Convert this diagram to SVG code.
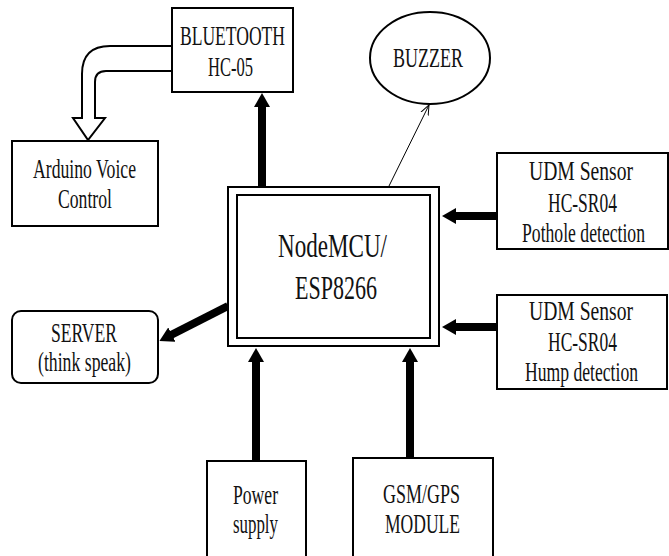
<svg xmlns="http://www.w3.org/2000/svg" width="669" height="556" viewBox="0 0 669 556">
<style>
.box{fill:#fff;stroke:#000;stroke-width:2}
.t{font-family:"Liberation Serif","Times New Roman",serif;font-size:27px;fill:#111;text-anchor:middle}
.big{font-size:34px}
.thick{stroke:#000;stroke-width:8;fill:none}
.thin{stroke:#000;stroke-width:1;fill:none}
</style>
<defs>
<marker id="head" viewBox="0 0 14 16" refX="1" refY="8" markerWidth="14" markerHeight="16" markerUnits="userSpaceOnUse" orient="auto">
<path d="M0,0 L14,8 L0,16 z" fill="#000"/>
</marker>
<marker id="open" viewBox="0 0 10 10" refX="10" refY="5" markerWidth="10" markerHeight="10" markerUnits="userSpaceOnUse" orient="auto">
<path d="M0,1 L10,5 L0,9" fill="none" stroke="#000" stroke-width="1"/>
</marker>
</defs>
<rect width="669" height="556" fill="#fff"/>

<g id="connectors">
<path d="M172,46 H110 Q82,46 82,74 V118 H73 L88,140 L105,118 H95 V82 Q95,71 106,71 H172 Z" fill="#fff" stroke="#000" stroke-width="2" stroke-linejoin="miter"/>
<line class="thick" x1="262" y1="187" x2="262" y2="106" marker-end="url(#head)"/>
<line class="thin" x1="389" y1="186" x2="429" y2="105" marker-end="url(#open)"/>
<line class="thick" x1="497" y1="216" x2="455" y2="216" marker-end="url(#head)"/>
<line class="thick" x1="497" y1="327" x2="455" y2="327" marker-end="url(#head)"/>
<line class="thick" x1="228" y1="306" x2="171" y2="335" marker-end="url(#head)"/>
<line class="thick" x1="256" y1="461" x2="256" y2="361" marker-end="url(#head)"/>
<line class="thick" x1="410" y1="458" x2="410" y2="361" marker-end="url(#head)"/>
</g>

<g id="bluetooth">
<rect class="box" x="172" y="8" width="121" height="84"/>
<text class="t" x="232.5" y="45" textLength="105" lengthAdjust="spacingAndGlyphs">BLUETOOTH</text>
<text class="t" x="230.5" y="76" textLength="45" lengthAdjust="spacingAndGlyphs">HC-05</text>
</g>

<g id="arduino">
<rect class="box" x="12" y="141" width="146" height="85"/>
<text class="t" x="84.5" y="178" textLength="103" lengthAdjust="spacingAndGlyphs">Arduino Voice</text>
<text class="t" x="85" y="208" textLength="54" lengthAdjust="spacingAndGlyphs">Control</text>
</g>

<g id="buzzer">
<ellipse cx="430" cy="58" rx="60" ry="46" fill="#fff" stroke="#000" stroke-width="2"/>
<text class="t" x="428" y="67" textLength="70" lengthAdjust="spacingAndGlyphs">BUZZER</text>
</g>

<g id="nodemcu">
<rect class="box" x="228" y="187" width="211" height="159"/>
<rect class="box" x="237" y="195" width="193" height="143"/>
<text class="t big" x="332.5" y="257" textLength="109" lengthAdjust="spacingAndGlyphs">NodeMCU/</text>
<text class="t big" x="336" y="299" textLength="82" lengthAdjust="spacingAndGlyphs">ESP8266</text>
</g>

<g id="udm1">
<rect class="box" x="497" y="153" width="171" height="96"/>
<text class="t" x="581" y="180" textLength="104" lengthAdjust="spacingAndGlyphs">UDM Sensor</text>
<text class="t" x="582.5" y="212" textLength="69" lengthAdjust="spacingAndGlyphs">HC-SR04</text>
<text class="t" x="583.5" y="242" textLength="123" lengthAdjust="spacingAndGlyphs">Pothole detection</text>
</g>

<g id="udm2">
<rect class="box" x="497" y="295" width="170" height="94"/>
<text class="t" x="581" y="320" textLength="104" lengthAdjust="spacingAndGlyphs">UDM Sensor</text>
<text class="t" x="582.5" y="351" textLength="69" lengthAdjust="spacingAndGlyphs">HC-SR04</text>
<text class="t" x="581.5" y="381" textLength="113" lengthAdjust="spacingAndGlyphs">Hump detection</text>
</g>

<g id="server">
<rect class="box" x="12" y="311" width="146" height="72" rx="9"/>
<text class="t" x="84" y="342" textLength="66" lengthAdjust="spacingAndGlyphs">SERVER</text>
<text class="t" x="84.5" y="371" textLength="93" lengthAdjust="spacingAndGlyphs">(think speak)</text>
</g>

<g id="power">
<rect class="box" x="207" y="461" width="99" height="100"/>
<text class="t" x="255.5" y="504" textLength="45" lengthAdjust="spacingAndGlyphs">Power</text>
<text class="t" x="255.5" y="533" textLength="45" lengthAdjust="spacingAndGlyphs">supply</text>
</g>

<g id="gsm">
<rect class="box" x="353" y="458" width="140" height="103"/>
<text class="t" x="421.5" y="503" textLength="77" lengthAdjust="spacingAndGlyphs">GSM/GPS</text>
<text class="t" x="422.5" y="533" textLength="75" lengthAdjust="spacingAndGlyphs">MODULE</text>
</g>
</svg>
